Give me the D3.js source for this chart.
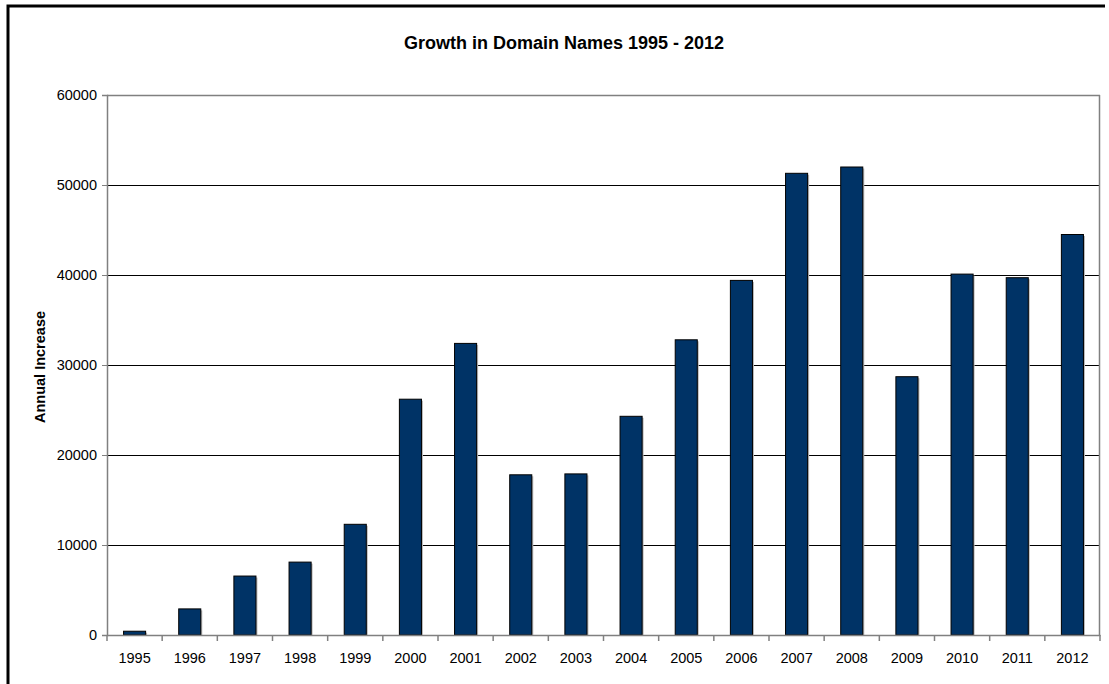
<!DOCTYPE html>
<html>
<head>
<meta charset="utf-8">
<script src="https://cdn.jsdelivr.net/npm/d3@7"></script>
<style>
  body { margin: 0; background: #fff; }
  text { font-family: Arial, "Liberation Sans", sans-serif; }
</style>
</head>
<body>
<div id="chart"></div>
<script>
// Growth in Domain Names 1995 - 2012

// data
var years = ["1995", "1996", "1997", "1998", "1999", "2000", "2001", "2002", "2003",
             "2004", "2005", "2006", "2007", "2008", "2009", "2010", "2011", "2012"];
var increases = [420, 2900, 6550, 8100, 12300, 26200, 32400, 17800, 17900,
                 24300, 32800, 39400, 51300, 52000, 28700, 40100, 39700, 44500];
var yTicks = [0, 10000, 20000, 30000, 40000, 50000, 60000];

var rows = years.map(function(y, i) { return { year: y, value: increases[i] }; });

// SVG area
var svgWidth = 1109;
var svgHeight = 684;

var margin = { top: 95, right: 9, bottom: 49, left: 107 };
var width = svgWidth - margin.left - margin.right;
var height = svgHeight - margin.top - margin.bottom;

var svg = d3.select("#chart")
  .append("svg")
  .attr("width", svgWidth)
  .attr("height", svgHeight);

// outer frame (top and left visible)
svg.append("path")
  .attr("d", "M8,684 L8,6 L1105,6")
  .attr("fill", "none")
  .attr("stroke", "#000")
  .attr("stroke-width", 3);

var chartGroup = svg.append("g")
  .attr("transform", `translate(${margin.left}, ${margin.top})`);

// scales
var xScale = d3.scaleBand()
  .domain(years)
  .range([0, width])
  .paddingInner(0.6)
  .paddingOuter(0.3);

var yScale = d3.scaleLinear()
  .domain([0, 60000])
  .range([height, 0]);

// gridlines
chartGroup.selectAll("line.grid")
  .data(yTicks.filter(function(t) { return t > 0; }))
  .enter()
  .append("line")
  .attr("class", "grid")
  .attr("x1", 0)
  .attr("x2", width)
  .attr("y1", d => Math.round(yScale(d)) + 0.5)
  .attr("y2", d => Math.round(yScale(d)) + 0.5)
  .attr("stroke", d => d === 60000 ? "#808080" : "#000")
  .attr("stroke-width", d => d === 60000 ? 1.5 : 1);

// right border of plot
chartGroup.append("line")
  .attr("x1", width - 0.5).attr("x2", width - 0.5)
  .attr("y1", 0).attr("y2", height)
  .attr("stroke", "#808080")
  .attr("stroke-width", 1.5);

// bar shadows
chartGroup.selectAll("rect.shadow")
  .data(rows)
  .enter()
  .append("rect")
  .attr("class", "shadow")
  .attr("x", d => xScale(d.year) + 1.5)
  .attr("y", d => yScale(d.value) + 1.5)
  .attr("width", xScale.bandwidth())
  .attr("height", d => height - yScale(d.value) - 1.5)
  .attr("fill", "#b8b8b8");

// bars
chartGroup.selectAll("rect.bar")
  .data(rows)
  .enter()
  .append("rect")
  .attr("class", "bar")
  .attr("x", d => xScale(d.year))
  .attr("y", d => yScale(d.value))
  .attr("width", xScale.bandwidth())
  .attr("height", d => height - yScale(d.value))
  .attr("fill", "#003366")
  .attr("stroke", "#000")
  .attr("stroke-width", 1);

// y axis
var leftAxis = d3.axisLeft(yScale)
  .tickValues(yTicks)
  .tickSize(5)
  .tickPadding(5)
  .tickFormat(d3.format("d"));

var yAxisG = chartGroup.append("g").call(leftAxis);
yAxisG.select(".domain").attr("stroke", "#808080").attr("stroke-width", 1.5);
yAxisG.selectAll(".tick line").attr("stroke", "#808080");
yAxisG.selectAll(".tick text")
  .attr("font-size", "14.5px")
  .attr("font-family", "Arial, 'Liberation Sans', sans-serif")
  .attr("fill", "#000");

// x axis (labels only, ticks drawn at category boundaries)
var bottomAxis = d3.axisBottom(xScale).tickSize(0).tickPadding(18);
var xAxisG = chartGroup.append("g")
  .attr("transform", `translate(0, ${height})`)
  .call(bottomAxis);
xAxisG.select(".domain").attr("stroke", "#808080").attr("stroke-width", 1.5);
xAxisG.selectAll(".tick text")
  .attr("font-size", "14.5px")
  .attr("font-family", "Arial, 'Liberation Sans', sans-serif")
  .attr("fill", "#000");

var boundaries = d3.range(years.length + 1).map(function(i) { return i * width / years.length; });
xAxisG.selectAll("line.bound")
  .data(boundaries)
  .enter()
  .append("line")
  .attr("class", "bound")
  .attr("x1", d => d).attr("x2", d => d)
  .attr("y1", 0).attr("y2", 6)
  .attr("stroke", "#808080")
  .attr("stroke-width", 1.5);

// title
svg.append("text")
  .attr("x", 564)
  .attr("y", 49)
  .attr("text-anchor", "middle")
  .attr("font-size", "18px")
  .attr("font-weight", "bold")
  .text("Growth in Domain Names 1995 - 2012");

// y axis label
svg.append("text")
  .attr("transform", "translate(45, 367) rotate(-90)")
  .attr("text-anchor", "middle")
  .attr("font-size", "14.5px")
  .attr("font-weight", "bold")
  .text("Annual Increase");
</script>
</body>
</html>
